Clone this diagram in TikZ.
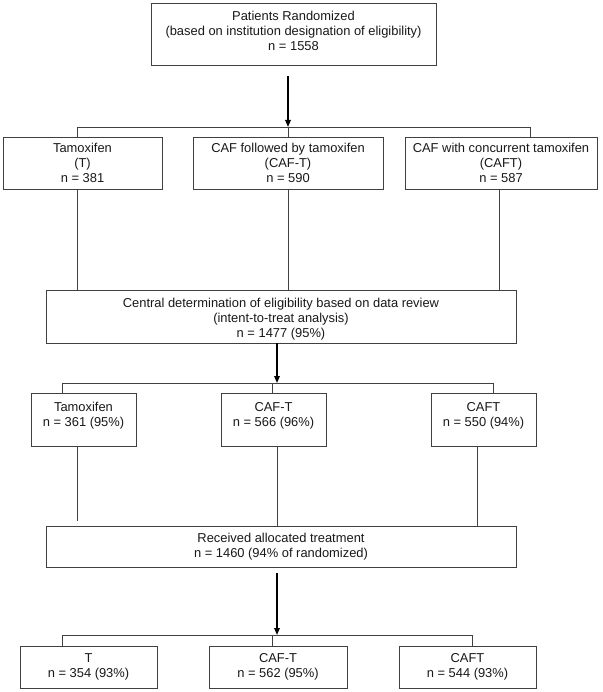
\documentclass[tikz,border=0pt]{standalone}
\usepackage{fontspec}
\setmainfont{Liberation Sans}
\usetikzlibrary{arrows.meta}
\newcommand{\lift}[1]{\rule[-#1]{0pt}{#1}}
\begin{document}
\begin{tikzpicture}[x=1pt,y=-1pt,
  box/.style={draw=black!75, line width=0.9pt, align=center, inner sep=0pt,
    font=\fontsize{12.9}{15}\selectfont, text=black!90},
  conn/.style={draw=black!75, line width=0.9pt},
  arr/.style={draw=black, line width=1.5pt, -{Triangle[length=7pt,width=5.5pt]}}]
\useasboundingbox[fill=white] (0,0) rectangle (602,692);

% boxes
\node[box, minimum width=285pt, minimum height=62pt] (top) at (293.5,34)
  {Patients Randomized\\(based on institution designation of eligibility)\\n = 1558\lift{6pt}};

\node[box, minimum width=159pt, minimum height=52pt] (t1) at (82.5,163) {Tamoxifen\\(T)\\n = 381};
\node[box, minimum width=190pt, minimum height=52pt] (t2) at (288,163) {CAF followed by tamoxifen\\(CAF-T)\\n = 590};
\node[box, minimum width=192pt, minimum height=52pt] (t3) at (501,163) {CAF with concurrent tamoxifen\\(CAFT)\\n = 587};

\node[box, minimum width=470pt, minimum height=53pt] (c) at (281,316.5)
  {\rule{0pt}{15pt}Central determination of eligibility based on data review\\(intent-to-treat analysis)\\n = 1477 (95\%)};

\node[box, minimum width=105pt, minimum height=53pt] (u1) at (83.5,419.5) {Tamoxifen\\n = 361 (95\%)\lift{11pt}};
\node[box, minimum width=105pt, minimum height=53pt] (u2) at (273.5,419.5) {CAF-T\\n = 566 (96\%)\lift{11pt}};
\node[box, minimum width=105pt, minimum height=53pt] (u3) at (483.5,419.5) {CAFT\\n = 550 (94\%)\lift{11pt}};

\node[box, minimum width=470pt, minimum height=41pt] (r) at (281,546.5)
  {Received allocated treatment\\n = 1460 (94\% of randomized)};

\node[box, minimum width=137pt, minimum height=42pt] (w1) at (88.5,667) {T\\n = 354 (93\%)\lift{3pt}};
\node[box, minimum width=138pt, minimum height=42pt] (w2) at (278,667) {CAF-T\\n = 562 (95\%)\lift{3pt}};
\node[box, minimum width=137pt, minimum height=42pt] (w3) at (467.5,667) {CAFT\\n = 544 (93\%)\lift{3pt}};

% junction coordinates
\coordinate (j1) at (288,127);
\coordinate (j1L) at (77,127);
\coordinate (j1R) at (530,127);
\coordinate (v3) at (499,200);

\coordinate (j2) at (277,383);
\coordinate (j2L) at (62,383);
\coordinate (j2M) at (272,383);
\coordinate (j2R) at (493,383);
\coordinate (x1) at (77,450);
\coordinate (x3) at (477,450);

\coordinate (j3) at (277,635);
\coordinate (j3L) at (62,635);
\coordinate (j3M) at (272,635);
\coordinate (j3R) at (472,635);

% level 1
\draw[arr, shorten <=11pt] (top.south -| j1) -- (j1);
\draw[conn] (j1L) -- (j1R);
\draw[conn] (j1L) -- (j1L |- t1.north);
\draw[conn] (j1) -- (j1 |- t2.north);
\draw[conn] (j1R) -- (j1R |- t3.north);

\draw[conn] (t1.south -| j1L) -- (j1L |- c.north);
\draw[conn] (t2.south -| j1) -- (j1 |- c.north);
\draw[conn] (t3.south -| v3) -- (v3 |- c.north);

% level 2
\draw[arr] (c.south -| j2) -- (j2);
\draw[conn] (j2L) -- (j2R);
\draw[conn] (j2L) -- (j2L |- u1.north);
\draw[conn] (j2M) -- (j2M |- u2.north);
\draw[conn] (j2R) -- (j2R |- u3.north);

\draw[conn, shorten >=5pt] (u1.south -| x1) -- (x1 |- r.north);
\draw[conn] (u2.south -| j2) -- (j2 |- r.north);
\draw[conn] (u3.south -| x3) -- (x3 |- r.north);

% level 3
\draw[arr, shorten <=6pt] (r.south -| j3) -- (j3);
\draw[conn] (j3L) -- (j3R);
\draw[conn] (j3L) -- (j3L |- w1.north);
\draw[conn] (j3M) -- (j3M |- w2.north);
\draw[conn] (j3R) -- (j3R |- w3.north);
\end{tikzpicture}
\end{document}
